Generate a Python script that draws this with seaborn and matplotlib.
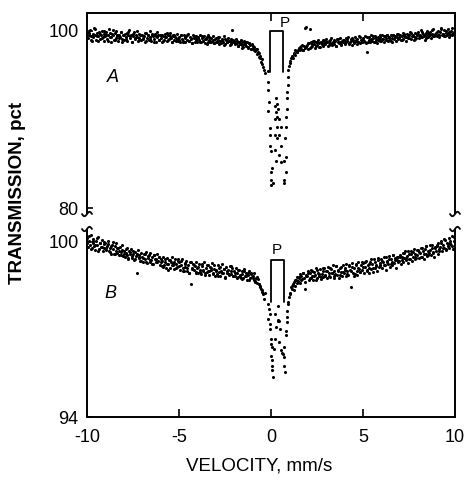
import numpy as np
import pandas as pd
import matplotlib
matplotlib.use("Agg")
import matplotlib.pyplot as plt
from matplotlib.lines import Line2D
import seaborn as sns

# ---------------- data ----------------
# sweep 1: wings sampled every 0.05 mm/s
LEFT_START, LEFT_END = -10.00, -0.40
RIGHT_START, RIGHT_END = 0.95, 10.00
# sweep 2: wings sampled every 0.1 mm/s, shifted by 0.025 mm/s
LEFT2_START, LEFT2_END = -9.975, -0.475
RIGHT2_START, RIGHT2_END = 1.025, 9.925

# Spectrum A, left wing, sweep 1 (-10.00 ... -0.40)
A_left = [
    99.9, 99.2, 99.6, 100.1, 99.4, 98.9, 99.7, 99.3, 100.3, 99.5, 99.0, 99.8, 99.4, 99.9, 99.1, 99.6, 100.0, 99.3, 98.9, 99.7,
    99.4, 99.9, 99.1, 99.6, 100.2, 99.3, 98.8, 99.7, 99.5, 99.0, 99.8, 99.2, 100.0, 99.4, 98.9, 99.6, 99.3, 99.9, 99.1, 99.5,
    99.0, 99.7, 99.3, 99.8, 98.9, 99.5, 100.1, 99.2, 99.6, 98.8, 99.4, 99.9, 99.1, 99.5, 99.3, 98.9, 99.7, 99.2, 99.6, 99.0,
    99.6, 99.1, 99.4, 98.8, 99.8, 99.2, 99.5, 99.0, 100.0, 99.3, 98.9, 99.6, 99.4, 99.1, 99.7, 98.8, 99.3, 99.5, 99.0, 99.6,
    99.2, 99.6, 98.8, 99.4, 99.0, 99.7, 99.3, 98.9, 99.5, 99.1, 99.8, 99.2, 98.7, 99.4, 99.6, 99.0, 99.3, 98.9, 99.7, 99.1,
    99.3, 98.8, 99.5, 99.1, 98.9, 99.6, 99.2, 98.7, 99.4, 99.0, 99.7, 98.9, 99.3, 99.1, 98.6, 99.5, 99.2, 98.8, 99.4, 99.0,
    98.8, 99.3, 99.0, 99.5, 98.7, 99.2, 98.9, 99.4, 98.6, 99.1, 99.3, 98.8, 99.6, 99.0, 98.7, 99.2, 98.9, 99.4, 98.6, 99.1,
    99.2, 98.7, 99.0, 98.5, 99.3, 98.9, 98.6, 99.1, 98.8, 99.4, 98.5, 99.0, 98.7, 99.2, 98.9, 98.4, 99.1, 98.7, 100.1, 98.8,
    98.9, 98.5, 99.1, 98.6, 98.3, 98.8, 98.5, 99.0, 98.4, 98.7, 98.2, 98.9, 98.5, 98.3, 98.7, 98.1, 98.6, 98.4, 98.0, 98.5,
    98.3, 97.9, 98.2, 97.7, 98.0, 97.4, 97.6, 97.1, 96.9, 96.5, 96.3, 95.9, 95.6,
]
# Spectrum A, left wing, sweep 2 (-9.975 ... -0.475)
A_left2 = [
    99.3, 99.8, 99.0, 99.6, 100.2, 99.4, 98.9, 99.7, 99.2, 100.0,
    99.5, 98.9, 99.8, 99.3, 100.1, 99.0, 99.6, 99.2, 99.9, 98.8,
    99.6, 99.1, 99.9, 99.4, 98.8, 99.7, 99.2, 100.0, 99.0, 99.5,
    99.2, 99.8, 98.9, 99.5, 99.1, 99.7, 98.8, 99.4, 99.9, 99.0,
    99.5, 98.9, 99.3, 99.8, 99.0, 99.4, 98.8, 99.6, 99.2, 98.9,
    99.0, 99.5, 98.7, 99.3, 99.6, 98.9, 99.2, 98.6, 99.4, 99.1,
    99.2, 98.7, 99.4, 98.9, 99.1, 98.5, 99.3, 98.8, 99.0, 98.6,
    98.8, 99.3, 98.6, 99.0, 98.4, 99.1, 98.7, 98.9, 98.5, 99.0,
    98.6, 98.9, 98.3, 98.7, 98.1, 98.5, 98.8, 98.2, 98.6, 98.0,
    98.1, 97.8, 98.0, 97.5, 97.2, 96.8,
]
# Spectrum A, right wing, sweep 1 (0.95 ... 10.00)
A_right = [
    95.6, 96.1, 96.6, 96.9, 97.2, 97.0, 97.5, 97.3, 97.7, 97.6, 97.9, 98.1, 97.8, 98.2, 98.0, 98.4, 97.9, 98.3, 98.1, 100.4,
    98.4, 98.0, 98.6, 100.2, 98.2, 98.7, 98.3, 98.9, 98.5, 98.1, 98.8, 98.4, 99.0, 98.6, 98.2, 98.7, 98.5, 99.0, 98.3, 98.8,
    98.5, 99.1, 98.7, 98.3, 98.9, 98.6, 99.2, 98.4, 98.8, 99.0, 98.5, 98.9, 98.3, 99.1, 98.7, 98.6, 99.2, 98.4, 98.9, 98.7,
    99.0, 98.5, 99.2, 98.7, 98.9, 99.3, 98.6, 98.8, 99.1, 98.4, 99.0, 98.7, 99.3, 98.9, 98.5, 99.1, 98.8, 99.4, 98.6, 99.0,
    98.7, 99.2, 98.9, 99.4, 98.6, 97.6, 98.8, 99.3, 99.0, 98.7, 99.5, 98.9, 99.2, 98.8, 99.4, 99.0, 98.6, 99.3, 99.1, 98.9,
    99.3, 98.9, 99.5, 99.1, 98.8, 99.4, 99.2, 99.6, 98.9, 99.3, 99.0, 99.5, 99.2, 98.8, 99.6, 99.1, 99.4, 98.9, 99.3, 99.7,
    99.2, 99.6, 99.0, 99.4, 99.8, 99.1, 99.5, 99.3, 98.9, 99.7, 99.2, 99.5, 99.9, 99.1, 99.4, 99.6, 99.0, 99.3, 99.8, 99.2,
    99.5, 99.9, 99.2, 99.6, 100.1, 99.3, 99.7, 99.4, 99.0, 99.8, 99.5, 100.0, 99.3, 99.6, 99.9, 99.2, 99.7, 100.2, 99.4, 99.6,
    99.8, 99.4, 100.0, 99.6, 99.3, 99.9, 100.3, 99.5, 99.7, 100.1, 99.4, 99.8, 99.6, 100.2, 99.3, 99.9, 99.7, 100.0, 99.5, 99.8,
    99.7, 100.1,
]
# Spectrum A, right wing, sweep 2 (1.025 ... 9.925)
A_right2 = [
    96.4, 97.1, 97.4, 97.8, 97.6, 98.0, 98.3, 97.9, 100.3, 98.2,
    98.6, 98.1, 98.5, 98.9, 98.3, 98.7, 98.2, 98.8, 98.5, 99.0,
    98.8, 98.4, 99.0, 98.6, 98.9, 98.3, 99.1, 98.7, 98.5, 99.0,
    98.7, 99.1, 98.5, 98.9, 99.2, 98.6, 99.0, 98.8, 99.3, 98.7,
    99.0, 98.7, 99.3, 98.9, 99.1, 99.4, 98.8, 99.2, 99.0, 99.5,
    99.1, 99.4, 99.0, 99.6, 99.2, 98.9, 99.5, 99.3, 99.7, 99.1,
    99.4, 99.0, 99.7, 99.3, 99.6, 99.2, 99.8, 99.4, 99.1, 99.7,
    99.6, 99.3, 99.9, 99.5, 99.2, 99.8, 99.6, 100.1, 99.4, 99.7,
    99.9, 99.5, 100.2, 99.7, 99.4, 100.0, 99.8, 99.5, 100.3, 99.9,
]
# Spectrum A, central absorption points
A_dip_vel = [-0.30, -0.17, -0.17, -0.17, -0.12, -0.17, -0.08, -0.08, -0.04, 0.00, 0.06, 0.00, 0.00, 0.10, -0.02,
             0.92, 0.90, 0.88, 0.88, 0.86, 0.84, 0.80, 0.75, 0.80, 0.72, 0.80, 0.72, 0.72,
             0.28, 0.35, 0.22, 0.37, 0.26, 0.35, 0.22, 0.46, 0.32, 0.55, 0.20, 0.46, 0.30, 0.55, 0.20, 0.46, 0.26, 0.55]
A_dip_tr = [95.3, 95.5, 94.2, 93.3, 92.0, 91.0, 89.0, 88.2, 87.0, 86.4, 84.5, 84.1, 83.2, 82.8, 82.6,
            94.8, 93.9, 93.1, 92.4, 91.2, 90.3, 89.2, 87.9, 85.8, 85.3, 84.1, 83.2, 82.8,
            92.4, 91.8, 91.5, 91.2, 90.9, 90.3, 90.1, 90.1, 89.2, 89.2, 88.2, 88.2, 87.9, 87.0, 86.5, 86.0, 85.3, 85.2]

# Spectrum B, left wing, sweep 1 (-10.00 ... -0.40)
B_left = [
    100.15, 99.82, 100.05, 99.90, 100.25, 99.78, 99.98, 100.10, 99.85, 99.72, 100.02, 99.88, 100.18, 99.76, 99.95, 99.83, 100.08, 99.70, 99.92, 99.80,
    99.95, 99.72, 99.86, 100.02, 99.68, 99.80, 99.60, 99.90, 99.75, 99.58, 99.85, 99.70, 99.95, 99.62, 99.78, 99.55, 99.82, 99.66, 99.74, 99.52,
    99.70, 99.48, 99.62, 99.80, 99.55, 99.42, 99.68, 99.58, 99.75, 99.45, 99.60, 99.38, 99.66, 99.52, 98.95, 99.72, 99.44, 99.56, 99.35, 99.62,
    99.50, 99.32, 99.58, 99.40, 99.65, 99.28, 99.46, 99.55, 99.30, 99.62, 99.38, 99.48, 99.25, 99.56, 99.42, 99.33, 99.60, 99.36, 99.50, 99.22,
    99.40, 99.18, 99.35, 99.50, 99.22, 99.30, 99.12, 99.45, 99.26, 99.38, 99.10, 99.32, 99.48, 99.20, 99.28, 99.08, 99.42, 99.24, 99.15, 99.35,
    99.30, 99.05, 99.22, 99.40, 99.12, 99.00, 99.28, 99.15, 99.35, 99.02, 99.20, 98.95, 99.32, 98.55, 99.10, 99.25, 99.05, 99.18, 98.98, 99.30,
    99.12, 98.95, 99.25, 99.05, 98.90, 99.18, 99.02, 99.30, 98.92, 99.10, 98.98, 99.22, 99.00, 98.88, 99.15, 99.05, 99.28, 98.94, 99.08, 98.85,
    99.05, 98.90, 99.20, 98.98, 99.10, 98.85, 99.02, 99.25, 98.92, 99.08, 98.80, 99.15, 98.95, 99.05, 98.88, 99.18, 98.90, 99.00, 99.12, 98.82,
    99.02, 98.85, 99.10, 98.92, 98.80, 99.05, 98.88, 98.75, 99.00, 98.90, 98.78, 99.08, 98.82, 98.95, 98.70, 98.88, 99.00, 98.76, 98.92, 98.80,
    98.85, 98.70, 98.92, 98.65, 98.78, 98.60, 98.72, 98.55, 98.48, 98.40, 98.30, 98.22, 98.05,
]
# Spectrum B, left wing, sweep 2 (-9.975 ... -0.475)
B_left2 = [
    99.95, 100.20, 99.75, 100.05, 99.88, 100.12, 99.70, 99.98, 99.82, 100.00,
    99.78, 99.92, 99.65, 99.85, 100.00, 99.60, 99.80, 99.70, 99.55, 99.88,
    99.58, 99.75, 99.45, 99.65, 99.52, 99.70, 99.40, 99.60, 99.48, 99.35,
    99.45, 99.60, 99.30, 99.52, 99.38, 99.25, 99.55, 99.42, 99.30, 99.48,
    99.32, 99.15, 99.42, 99.25, 99.05, 99.38, 99.20, 99.30, 99.10, 99.40,
    99.18, 99.35, 99.00, 99.25, 99.12, 98.92, 99.30, 99.08, 99.20, 98.95,
    99.15, 98.98, 99.25, 99.05, 98.88, 99.20, 99.00, 99.12, 98.90, 99.22,
    99.00, 98.85, 99.15, 98.95, 99.08, 98.78, 99.02, 98.90, 99.18, 98.85,
    98.95, 98.78, 99.05, 98.85, 98.72, 99.00, 98.82, 98.95, 98.68, 98.90,
    98.75, 98.62, 98.80, 98.55, 98.45, 98.35,
]
# Spectrum B, right wing, sweep 1 (0.95 ... 10.00)
B_right = [
    97.95, 98.10, 98.25, 98.45, 98.38, 98.55, 98.62, 98.50, 98.70, 98.80, 98.65, 98.75, 98.90, 98.60, 98.85, 98.72, 98.95, 98.78, 98.40, 98.88,
    98.82, 99.00, 98.70, 98.92, 98.78, 99.05, 98.85, 98.68, 98.98, 98.88, 99.10, 98.75, 98.95, 98.82, 99.08, 98.72, 98.90, 99.00, 98.80, 99.12,
    98.85, 99.02, 98.78, 99.15, 98.92, 98.80, 99.08, 98.95, 99.20, 98.82, 99.00, 98.90, 99.18, 98.86, 99.05, 98.75, 99.12, 98.96, 98.84, 99.22,
    98.92, 99.10, 98.85, 99.25, 99.00, 98.88, 99.18, 99.05, 98.45, 99.28, 98.95, 99.12, 98.90, 99.22, 99.02, 98.86, 99.30, 99.08, 98.96, 99.20,
    99.05, 99.28, 98.95, 99.15, 99.35, 99.00, 99.22, 99.10, 98.92, 99.32, 99.08, 99.25, 98.98, 99.40, 99.12, 99.20, 99.02, 99.38, 99.15, 99.28,
    99.18, 99.40, 99.10, 99.30, 99.48, 99.22, 99.05, 99.35, 99.25, 99.52, 99.15, 99.42, 99.30, 99.20, 99.55, 99.28, 99.45, 99.12, 99.38, 99.50,
    99.35, 99.55, 99.25, 99.48, 99.62, 99.30, 99.45, 99.70, 99.38, 99.52, 99.28, 99.60, 99.42, 99.68, 99.35, 99.50, 99.75, 99.40, 99.58, 99.45,
    99.55, 99.72, 99.45, 99.62, 99.80, 99.50, 99.68, 99.42, 99.75, 99.58, 99.85, 99.52, 99.70, 99.62, 99.90, 99.55, 99.78, 99.65, 99.48, 99.82,
    99.70, 99.88, 99.60, 99.95, 99.75, 99.82, 100.02, 99.68, 99.90, 99.78, 100.08, 99.72, 99.95, 99.85, 100.15, 99.80, 99.98, 99.88, 100.20, 99.75,
    100.05, 100.30,
]
# Spectrum B, right wing, sweep 2 (1.025 ... 9.925)
B_right2 = [
    98.20, 98.50, 98.35, 98.68, 98.58, 98.80, 98.70, 98.92, 98.62, 98.85,
    98.95, 98.75, 99.02, 98.85, 98.70, 99.05, 98.90, 98.80, 99.10, 98.88,
    99.00, 98.82, 99.12, 98.95, 98.78, 99.18, 99.02, 98.88, 99.15, 98.98,
    99.05, 98.90, 99.22, 99.00, 99.15, 98.85, 99.25, 99.10, 98.98, 99.30,
    99.15, 99.32, 99.05, 99.25, 99.40, 99.10, 99.30, 99.18, 99.45, 99.22,
    99.35, 99.20, 99.50, 99.30, 99.42, 99.25, 99.55, 99.38, 99.48, 99.30,
    99.50, 99.38, 99.62, 99.45, 99.70, 99.40, 99.58, 99.65, 99.48, 99.72,
    99.65, 99.50, 99.78, 99.60, 99.85, 99.55, 99.72, 99.88, 99.62, 99.80,
    99.85, 99.70, 99.98, 99.80, 100.10, 99.75, 99.92, 100.05, 99.85, 100.18,
]
# Spectrum B, central absorption points
B_dip_vel = [-0.30, -0.17, -0.12, -0.08, -0.17, -0.08, -0.04, 0.00, 0.00, 0.06, 0.00, 0.08, 0.06, 0.08, 0.12,
             0.92, 0.88, 0.88, 0.88, 0.84, 0.80, 0.70, 0.66, 0.70, 0.70, 0.75,
             0.37, 0.24, 0.42, 0.38, 0.40, 0.28, 0.50, 0.20, 0.46, 0.15, 0.55, 0.62]
B_dip_tr = [98.25, 97.88, 97.70, 97.53, 97.36, 97.20, 97.00, 96.68, 96.50, 96.40, 96.10, 95.94, 95.76, 95.60, 95.37,
            97.88, 97.65, 97.43, 97.25, 96.96, 96.80, 96.40, 96.16, 96.06, 95.76, 95.54,
            97.80, 97.53, 97.30, 97.28, 97.33, 97.10, 97.00, 96.68, 96.57, 96.33, 96.28, 96.20]

X_TICKS = [-10, -5, 0, 5, 10]
X_TICK_LABELS = ["-10", "-5", "0", "5", "10"]
A_YTICKS = [80, 100]
B_YTICKS = [94, 100]


def spectrum_frame(left, left2, right, right2, dip_v, dip_t):
    vel = np.concatenate([
        np.linspace(LEFT_START, LEFT_END, len(left)),
        np.linspace(LEFT2_START, LEFT2_END, len(left2)),
        np.linspace(RIGHT_START, RIGHT_END, len(right)),
        np.linspace(RIGHT2_START, RIGHT2_END, len(right2)),
        dip_v,
    ])
    tr = np.concatenate([left, left2, right, right2, dip_t])
    return pd.DataFrame({"velocity": vel, "transmission": tr})


dfA = spectrum_frame(A_left, A_left2, A_right, A_right2, A_dip_vel, A_dip_tr)
dfB = spectrum_frame(B_left, B_left2, B_right, B_right2, B_dip_vel, B_dip_tr)

# ---------------- styling ----------------
sns.set_style("ticks")
plt.rcParams['font.family'] = ['Liberation Sans', 'DejaVu Sans']
plt.rcParams['axes.unicode_minus'] = False
for key in ("text.color", "axes.labelcolor", "xtick.color", "ytick.color", "axes.edgecolor"):
    plt.rcParams[key] = "black"

W, H = 468, 482
fig = plt.figure(figsize=(W / 100, H / 100), dpi=100)
L, R = 87, 455


def rect(top, bottom):
    return [L / W, 1 - bottom / H, (R - L) / W, (bottom - top) / H]


axA = fig.add_axes(rect(13, 213))
axB = fig.add_axes(rect(230, 417))

for ax, df in ((axA, dfA), (axB, dfB)):
    sns.scatterplot(data=df, x="velocity", y="transmission", ax=ax, s=5,
                    color="black", linewidth=0, marker="o", legend=False)
    ax.set_xlim(-10, 10)
    ax.set_xlabel("")
    ax.set_ylabel("")
    for sp in ax.spines.values():
        sp.set_linewidth(1.4)
        sp.set_color("black")
    ax.set_xticks(X_TICKS)
    ax.tick_params(axis="both", direction="in", width=1.2, colors="black", labelsize=13)
    ax.tick_params(axis="x", length=6, top=False, bottom=False)
    ax.tick_params(axis="y", length=4, right=False, pad=6)

axA.set_ylim(79.44, 102.03)
axB.set_ylim(94, 100.41)

axA.spines["bottom"].set_visible(False)
axA.tick_params(axis="x", top=True, bottom=False, labelbottom=False, labeltop=False)
axA.set_yticks(A_YTICKS)
axA.set_yticklabels([str(t) for t in A_YTICKS])

axB.spines["top"].set_visible(False)
axB.tick_params(axis="x", bottom=True, top=False, labelbottom=True, pad=9)
axB.set_xticklabels(X_TICK_LABELS)
axB.set_yticks(B_YTICKS)
axB.set_yticklabels([str(t) for t in B_YTICKS])

for ax in (axA, axB):
    for t in ax.xaxis.get_major_ticks():
        if abs(t.get_loc()) == 10:
            t.tick1line.set_visible(False)
            t.tick2line.set_visible(False)

# "P" brackets (open at the bottom)
axA.plot([-0.03, -0.03, 0.64, 0.64], [95.4, 99.95, 99.95, 95.4], color="black", lw=1.3)
axA.text(0.76, 100.9, "P", ha="center", va="center", fontsize=11)
axB.plot([0.0, 0.0, 0.73, 0.73], [97.95, 99.38, 99.38, 97.95], color="black", lw=1.3)
axB.text(0.33, 99.72, "P", ha="center", va="center", fontsize=11)

# panel letters
axA.text(-8.6, 94.8, "A", ha="center", va="center", fontsize=13, style="italic")
axB.text(-8.75, 98.25, "B", ha="center", va="center", fontsize=13, style="italic")


def squiggle(xp, yp):
    t = np.linspace(-1, 1, 30)
    xs = (xp + 5 * t) / W
    ys = 1 - (yp - 2.2 * np.sin(np.pi * t)) / H
    fig.add_artist(Line2D(xs, ys, transform=fig.transFigure, color="black", lw=1.3))


for xp in (L, R):
    squiggle(xp, 214)
    squiggle(xp, 229)

fig.text(259 / W, 1 - 466 / H, "VELOCITY, mm/s", ha="center", va="center", fontsize=13.5)
fig.text(18 / W, 1 - 193 / H, "TRANSMISSION, pct", ha="center", va="center",
         rotation=90, fontsize=13.5, fontweight="bold")

fig.savefig("out.png", dpi=100)
